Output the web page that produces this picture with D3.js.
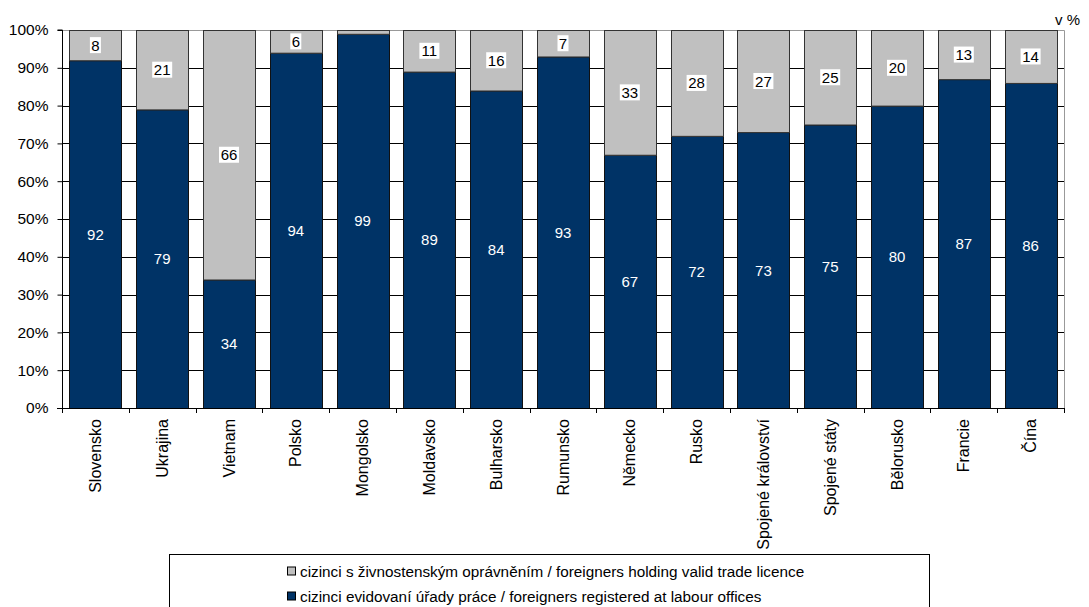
<!DOCTYPE html>
<html><head><meta charset="utf-8">
<script src="https://cdn.jsdelivr.net/npm/d3@7"></script>
<style>body{margin:0;background:#fff}svg{display:block;font-family:"Liberation Sans",Arial,sans-serif}</style>
</head><body><svg id="c" width="1089" height="607"></svg>
<script>
const categories = ["Slovensko","Ukrajina","Vietnam","Polsko","Mongolsko","Moldavsko","Bulharsko","Rumunsko","Německo","Rusko","Spojené království","Spojené státy","Bělorusko","Francie","Čína"];
const registered = [92,79,34,94,99,89,84,93,67,72,73,75,80,87,86];
const tradeLicence = [8,21,66,6,1,11,16,7,33,28,27,25,20,13,14];
const yTicks = [0,10,20,30,40,50,60,70,80,90,100];
const seriesNames = ["cizinci s živnostenským oprávněním / foreigners holding valid trade licence","cizinci evidovaní úřady práce / foreigners registered at labour offices"];
const colors = {reg:"#003366", trade:"#c0c0c0"};

const svg = d3.select("#c");
const L=62, R=1064, T=30, B=408;
const x = d3.scaleBand().domain(categories).range([L,R]).paddingInner(0.22).paddingOuter(0.11);
const y = d3.scaleLinear().domain([0,100]).range([B,T]);

// gridlines
svg.append("g").selectAll("line").data(yTicks.filter(d=>d>0&&d<100)).join("line")
 .attr("x1",L).attr("x2",R).attr("y1",d=>Math.round(y(d))+0.5).attr("y2",d=>Math.round(y(d))+0.5).attr("stroke","#000").attr("stroke-width",1);
// plot border top/right
svg.append("path").attr("d",`M${L},${T+0.5}H${R+0.5}V${B}`).attr("fill","none").attr("stroke","#999");

const stack = categories.map((c,i)=>({c, r:registered[i], t:tradeLicence[i]}));
const g = svg.append("g");
g.selectAll("rect.r").data(stack).join("rect").attr("class","r")
 .attr("x",d=>Math.round(x(d.c))+0.5).attr("width",Math.round(x.bandwidth()))
 .attr("y",d=>y(d.r)+0.5).attr("height",d=>y(0)-y(d.r))
 .attr("fill",colors.reg).attr("stroke","#111").attr("stroke-width",1);
g.selectAll("rect.t").data(stack).join("rect").attr("class","t")
 .attr("x",d=>Math.round(x(d.c))+0.5).attr("width",Math.round(x.bandwidth()))
 .attr("y",d=>y(d.r+d.t)+0.5).attr("height",d=>y(d.r)-y(d.r+d.t))
 .attr("fill",colors.trade).attr("stroke","#333").attr("stroke-width",1);

// axes
const ya = d3.axisLeft(y).tickValues(yTicks).tickFormat(d=>d+"%").tickSize(5).tickPadding(9);
const yg = svg.append("g").attr("transform",`translate(${L+0.5},0)`).call(ya);
yg.select(".domain").attr("d",`M-5,${T}H0V${B}`);
yg.selectAll("text").attr("font-size",15.5).attr("fill","#000").attr("font-family","Liberation Sans, Arial, sans-serif");

const xb = categories.map((c,i)=>L+(R-L)*i/categories.length).concat([R]);
const xg = svg.append("g");
xg.append("line").attr("x1",L-5).attr("x2",R).attr("y1",B+0.5).attr("y2",B+0.5).attr("stroke","#000");
xg.selectAll("line.t").data(xb).join("line").attr("class","t")
 .attr("x1",d=>Math.round(d)+0.5).attr("x2",d=>Math.round(d)+0.5).attr("y1",B).attr("y2",B+5).attr("stroke","#000");
xg.selectAll("text").data(categories).join("text")
 .attr("transform",d=>`translate(${x(d)+x.bandwidth()/2+5.5},${B+11}) rotate(-90)`)
 .attr("text-anchor","end").attr("font-size",16).text(d=>d);

// labels
svg.append("g").selectAll("text").data(stack).join("text")
 .attr("x",d=>x(d.c)+x.bandwidth()/2).attr("y",d=>(y(0)+y(d.r))/2+5.5)
 .attr("text-anchor","middle").attr("font-size",15).attr("fill","#fff").text(d=>d.r);
const tl = svg.append("g").selectAll("g").data(stack.filter(d=>d.t>=3)).join("g")
 .attr("transform",d=>`translate(${x(d.c)+x.bandwidth()/2},${(y(d.r)+y(d.r+d.t))/2})`);
tl.append("rect").attr("x",d=>-(String(d.t).length*9+2)/2).attr("y",-8).attr("width",d=>String(d.t).length*9+2).attr("height",16).attr("fill","#fff");
tl.append("text").attr("y",5.5).attr("text-anchor","middle").attr("font-size",15).attr("fill","#000").text(d=>d.t);

svg.append("text").attr("x",1080).attr("y",25).attr("text-anchor","end").attr("font-size",15).text("v %");

// legend
const lg = svg.append("g");
lg.append("rect").attr("x",169.5).attr("y",554.5).attr("width",760).attr("height",60).attr("fill","#fff").attr("stroke","#000");
const items=[{n:seriesNames[0],c:colors.trade},{n:seriesNames[1],c:colors.reg}];
const li = lg.selectAll("g").data(items).join("g").attr("transform",(d,i)=>`translate(287,${571.5+i*25})`);
li.append("rect").attr("x",0.5).attr("y",-4.5).attr("width",8).attr("height",8).attr("fill",d=>d.c).attr("stroke","#000");
li.append("text").attr("x",13).attr("y",5.5).attr("font-size",15.3).text(d=>d.n);
</script></body></html>
